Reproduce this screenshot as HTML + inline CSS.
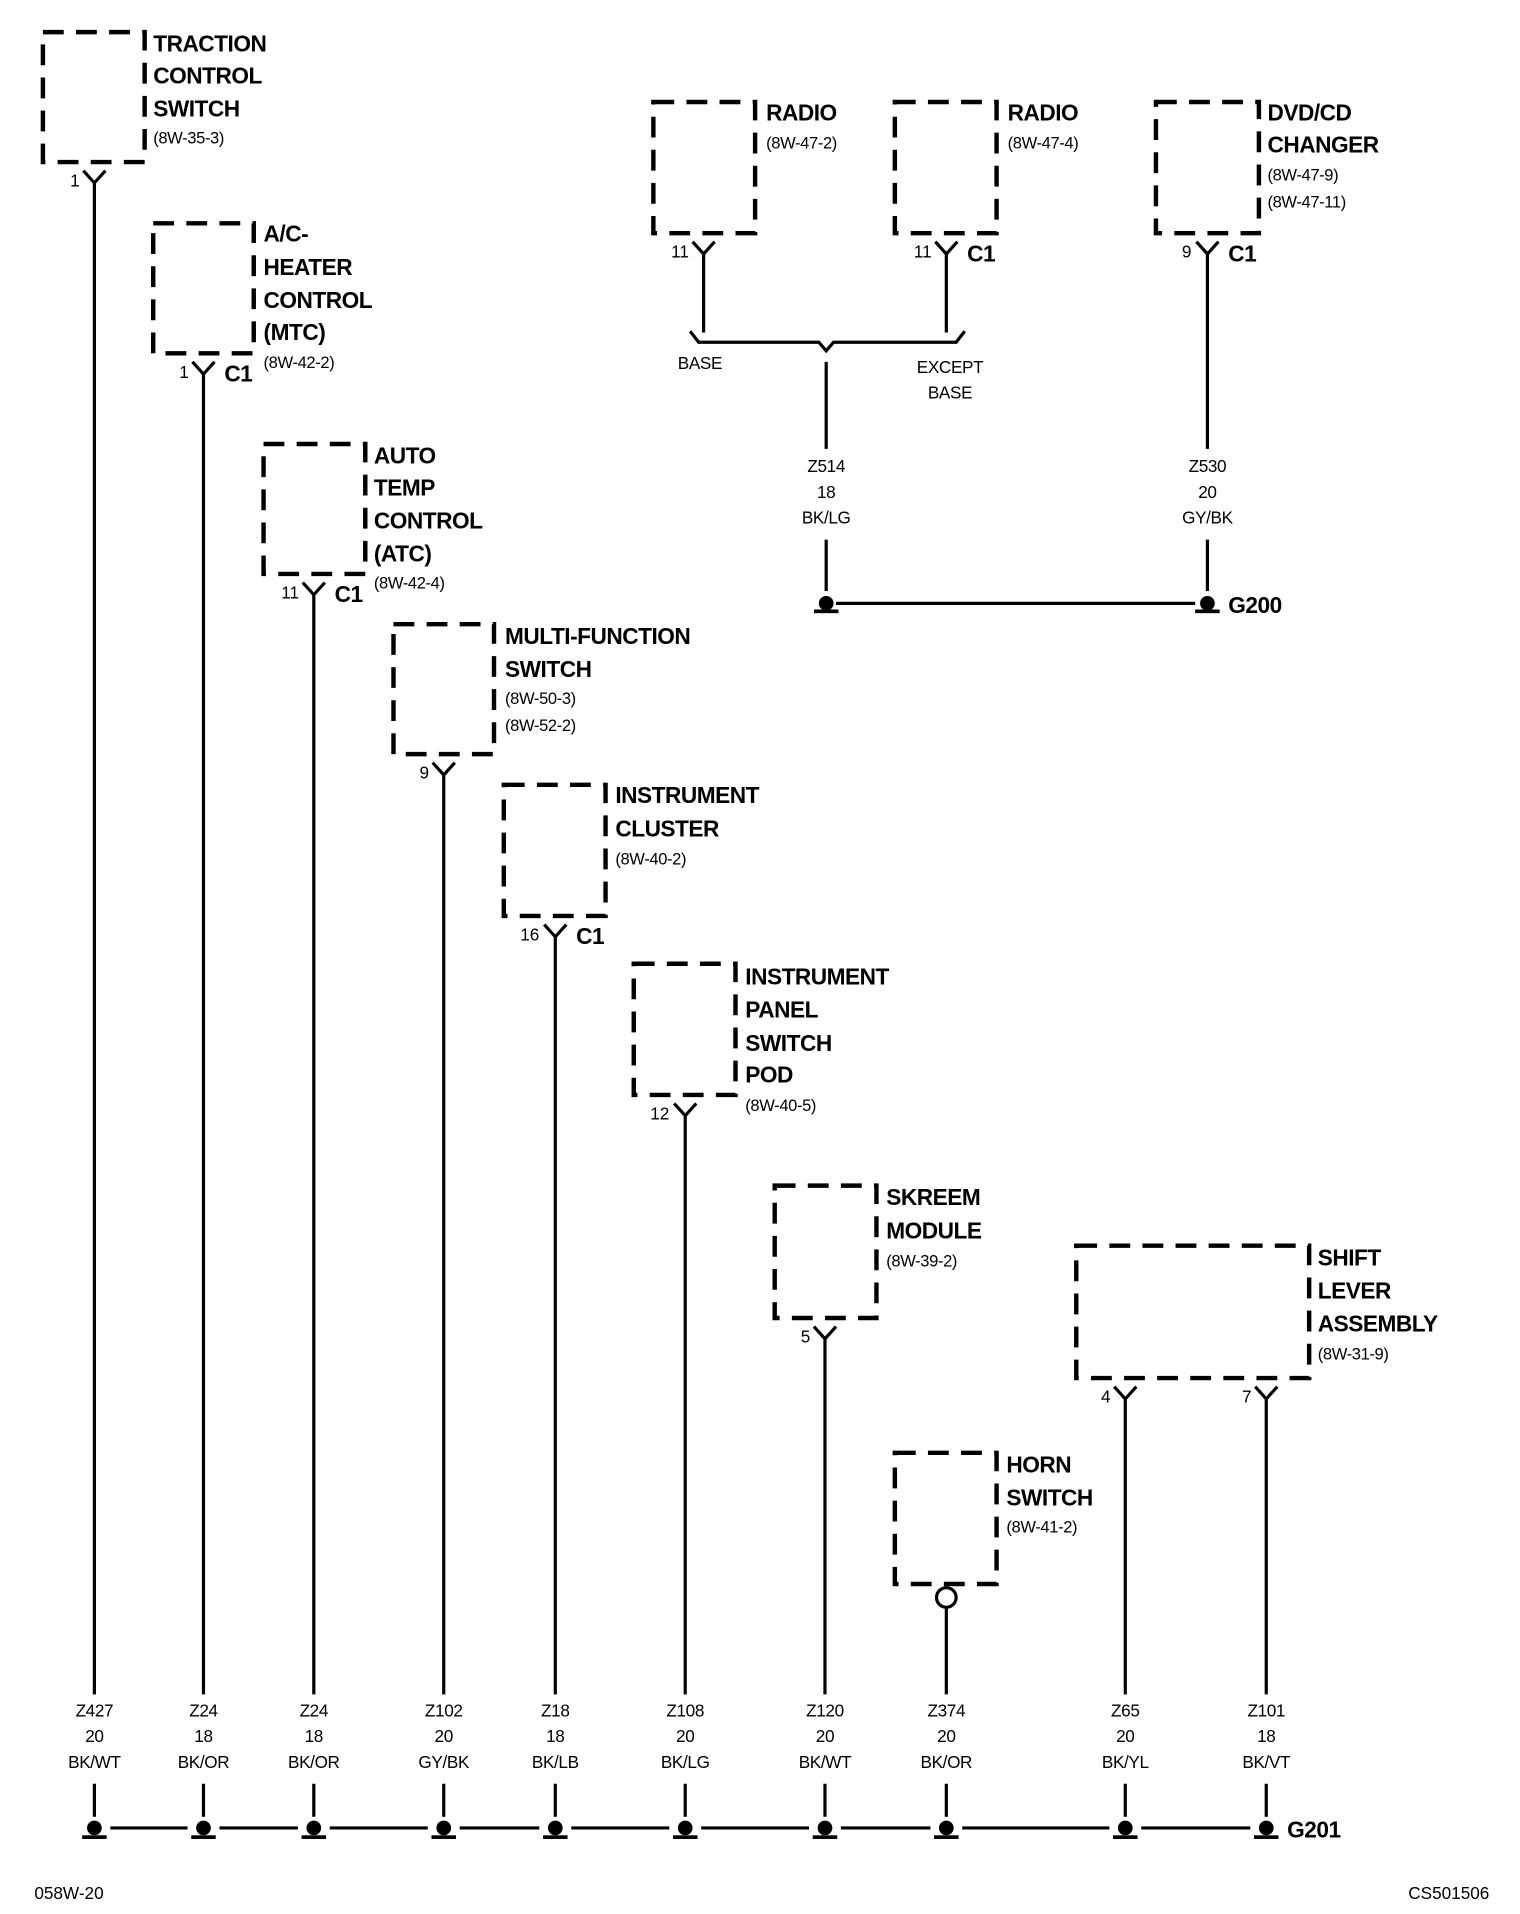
<!DOCTYPE html>
<html><head><meta charset="utf-8">
<style>
html,body{margin:0;padding:0;background:#fff;}
svg{display:block;}
.t{font-family:"Liberation Sans",sans-serif;font-weight:bold;font-size:18.5px;letter-spacing:-0.4px;fill:#000;}
.r{font-family:"Liberation Sans",sans-serif;font-size:13.5px;letter-spacing:-0.3px;fill:#000;}
.p{font-family:"Liberation Sans",sans-serif;font-size:14px;fill:#000;}
.w{font-family:"Liberation Sans",sans-serif;font-size:14px;letter-spacing:-0.3px;fill:#000;text-anchor:middle;}
.b{fill:none;stroke:#000;stroke-width:3.6;stroke-dasharray:17 10;}
.l{stroke:#000;stroke-width:2.6;fill:none;}
</style></head><body>
<svg width="1520" height="1914" viewBox="0 0 1240 1561" xmlns="http://www.w3.org/2000/svg">
<rect class="b" x="35" y="26" width="83" height="106"/>
<rect class="b" x="125" y="182" width="82" height="106"/>
<rect class="b" x="215" y="362" width="83" height="106"/>
<rect class="b" x="321" y="509" width="82" height="106"/>
<rect class="b" x="411" y="640" width="83" height="107"/>
<rect class="b" x="517" y="786" width="83" height="107"/>
<rect class="b" x="632" y="967" width="83" height="108"/>
<rect class="b" x="730" y="1185" width="83" height="107"/>
<rect class="b" x="878" y="1016" width="190" height="108"/>
<rect class="b" x="533" y="83" width="83" height="107"/>
<rect class="b" x="730" y="83" width="83" height="107"/>
<rect class="b" x="943" y="83" width="84" height="107"/>

<g class="l">
<path d="M68 139 L77 149 L86 139 M77 149 V1382 M77 1455 V1482"/>
<path d="M157 295 L166 305 L175 295 M166 305 V1382 M166 1455 V1482"/>
<path d="M247 475 L256 485 L265 475 M256 485 V1382 M256 1455 V1482"/>
<path d="M353 622 L362 632 L371 622 M362 632 V1382 M362 1455 V1482"/>
<path d="M444 754 L453 764 L462 754 M453 764 V1382 M453 1455 V1482"/>
<path d="M550 900 L559 910 L568 900 M559 910 V1382 M559 1455 V1482"/>
<path d="M664 1082 L673 1092 L682 1082 M673 1092 V1382 M673 1455 V1482"/>
<circle cx="772" cy="1303" r="8"/>
<path d="M772 1311 V1382 M772 1455 V1482"/>
<path d="M909 1131 L918 1141 L927 1131 M918 1141 V1382 M918 1455 V1482"/>
<path d="M1024 1131 L1033 1141 L1042 1131 M1033 1141 V1382 M1033 1455 V1482"/>
<path d="M565 197 L574 207 L583 197 M574 207 V271"/>
<path d="M763 197 L772 207 L781 197 M772 207 V271"/>
<path d="M976 197 L985 207 L994 197 M985 207 V366 M985 440 V482"/>
<path d="M563 270 L570 279 H668 L674 286 L680 279 H780 L787 270"/>
<path d="M674 295 V366 M674 440 V482"/>
<path d="M674 492 H985"/>
</g>
<g>
<rect x="666" y="482" width="16" height="20" fill="#fff"/>
<circle cx="674" cy="492" r="6" fill="#000"/>
<rect x="664" y="497" width="20" height="3" fill="#000"/>
<rect x="975" y="482" width="20" height="20" fill="#fff"/>
<circle cx="985" cy="492" r="6" fill="#000"/>
<rect x="975" y="497" width="20" height="3" fill="#000"/>
</g>
<path class="l" d="M77 1491 H1033"/>
<g fill="#000">
<g transform="translate(77,0)"><rect x="-13" y="1482" width="26" height="20" fill="#fff"/><circle cx="0" cy="1491" r="6"/><rect x="-10" y="1497" width="20" height="3"/></g>
<g transform="translate(166,0)"><rect x="-13" y="1482" width="26" height="20" fill="#fff"/><circle cx="0" cy="1491" r="6"/><rect x="-10" y="1497" width="20" height="3"/></g>
<g transform="translate(256,0)"><rect x="-13" y="1482" width="26" height="20" fill="#fff"/><circle cx="0" cy="1491" r="6"/><rect x="-10" y="1497" width="20" height="3"/></g>
<g transform="translate(362,0)"><rect x="-13" y="1482" width="26" height="20" fill="#fff"/><circle cx="0" cy="1491" r="6"/><rect x="-10" y="1497" width="20" height="3"/></g>
<g transform="translate(453,0)"><rect x="-13" y="1482" width="26" height="20" fill="#fff"/><circle cx="0" cy="1491" r="6"/><rect x="-10" y="1497" width="20" height="3"/></g>
<g transform="translate(559,0)"><rect x="-13" y="1482" width="26" height="20" fill="#fff"/><circle cx="0" cy="1491" r="6"/><rect x="-10" y="1497" width="20" height="3"/></g>
<g transform="translate(673,0)"><rect x="-13" y="1482" width="26" height="20" fill="#fff"/><circle cx="0" cy="1491" r="6"/><rect x="-10" y="1497" width="20" height="3"/></g>
<g transform="translate(772,0)"><rect x="-13" y="1482" width="26" height="20" fill="#fff"/><circle cx="0" cy="1491" r="6"/><rect x="-10" y="1497" width="20" height="3"/></g>
<g transform="translate(918,0)"><rect x="-13" y="1482" width="26" height="20" fill="#fff"/><circle cx="0" cy="1491" r="6"/><rect x="-10" y="1497" width="20" height="3"/></g>
<g transform="translate(1033,0)"><rect x="-13" y="1482" width="26" height="20" fill="#fff"/><circle cx="0" cy="1491" r="6"/><rect x="-10" y="1497" width="20" height="3"/></g>
</g>

<g class="t">
<text x="125" y="42">TRACTION</text><text x="125" y="68">CONTROL</text><text x="125" y="95">SWITCH</text>
<text x="215" y="197">A/C-</text><text x="215" y="224">HEATER</text><text x="215" y="251">CONTROL</text><text x="215" y="277">(MTC)</text>
<text x="305" y="378">AUTO</text><text x="305" y="404">TEMP</text><text x="305" y="431">CONTROL</text><text x="305" y="458">(ATC)</text>
<text x="412" y="525">MULTI-FUNCTION</text><text x="412" y="552">SWITCH</text>
<text x="502" y="655">INSTRUMENT</text><text x="502" y="682">CLUSTER</text>
<text x="608" y="803">INSTRUMENT</text><text x="608" y="830">PANEL</text><text x="608" y="857">SWITCH</text><text x="608" y="883">POD</text>
<text x="723" y="983">SKREEM</text><text x="723" y="1010">MODULE</text>
<text x="821" y="1201">HORN</text><text x="821" y="1228">SWITCH</text>
<text x="1075" y="1032">SHIFT</text><text x="1075" y="1059">LEVER</text><text x="1075" y="1086">ASSEMBLY</text>
<text x="625" y="98">RADIO</text>
<text x="822" y="98">RADIO</text>
<text x="1034" y="98">DVD/CD</text><text x="1034" y="124">CHANGER</text>
<text x="183" y="311">C1</text>
<text x="273" y="491">C1</text>
<text x="470" y="770">C1</text>
<text x="789" y="213">C1</text>
<text x="1002" y="213">C1</text>
<text x="1002" y="500">G200</text>
<text x="1050" y="1499">G201</text>
</g>
<g class="r">
<text x="125" y="117">(8W-35-3)</text>
<text x="215" y="300">(8W-42-2)</text>
<text x="305" y="480">(8W-42-4)</text>
<text x="412" y="574">(8W-50-3)</text><text x="412" y="596">(8W-52-2)</text>
<text x="502" y="705">(8W-40-2)</text>
<text x="608" y="906">(8W-40-5)</text>
<text x="723" y="1033">(8W-39-2)</text>
<text x="821" y="1250">(8W-41-2)</text>
<text x="1075" y="1109">(8W-31-9)</text>
<text x="625" y="121">(8W-47-2)</text>
<text x="822" y="121">(8W-47-4)</text>
<text x="1034" y="147">(8W-47-9)</text><text x="1034" y="169">(8W-47-11)</text>
</g>
<g class="p" text-anchor="end">
<text x="65" y="152">1</text>
<text x="154" y="308">1</text>
<text x="244" y="488">11</text>
<text x="350" y="635">9</text>
<text x="440" y="767">16</text>
<text x="546" y="913">12</text>
<text x="661" y="1095">5</text>
<text x="906" y="1144">4</text>
<text x="1021" y="1144">7</text>
<text x="562" y="210">11</text>
<text x="760" y="210">11</text>
<text x="972" y="210">9</text>
</g>
<g class="w">
<text x="571" y="301">BASE</text>
<text x="775" y="304">EXCEPT</text><text x="775" y="325">BASE</text>
<text x="674" y="385">Z514</text><text x="674" y="406">18</text><text x="674" y="427">BK/LG</text>
<text x="985" y="385">Z530</text><text x="985" y="406">20</text><text x="985" y="427">GY/BK</text>
<text x="77" y="1400">Z427</text><text x="77" y="1421">20</text><text x="77" y="1442">BK/WT</text>
<text x="166" y="1400">Z24</text><text x="166" y="1421">18</text><text x="166" y="1442">BK/OR</text>
<text x="256" y="1400">Z24</text><text x="256" y="1421">18</text><text x="256" y="1442">BK/OR</text>
<text x="362" y="1400">Z102</text><text x="362" y="1421">20</text><text x="362" y="1442">GY/BK</text>
<text x="453" y="1400">Z18</text><text x="453" y="1421">18</text><text x="453" y="1442">BK/LB</text>
<text x="559" y="1400">Z108</text><text x="559" y="1421">20</text><text x="559" y="1442">BK/LG</text>
<text x="673" y="1400">Z120</text><text x="673" y="1421">20</text><text x="673" y="1442">BK/WT</text>
<text x="772" y="1400">Z374</text><text x="772" y="1421">20</text><text x="772" y="1442">BK/OR</text>
<text x="918" y="1400">Z65</text><text x="918" y="1421">20</text><text x="918" y="1442">BK/YL</text>
<text x="1033" y="1400">Z101</text><text x="1033" y="1421">18</text><text x="1033" y="1442">BK/VT</text>
</g>
<text class="p" x="28" y="1549">058W-20</text>
<text class="p" x="1215" y="1549" text-anchor="end">CS501506</text>
</svg>
</body></html>
